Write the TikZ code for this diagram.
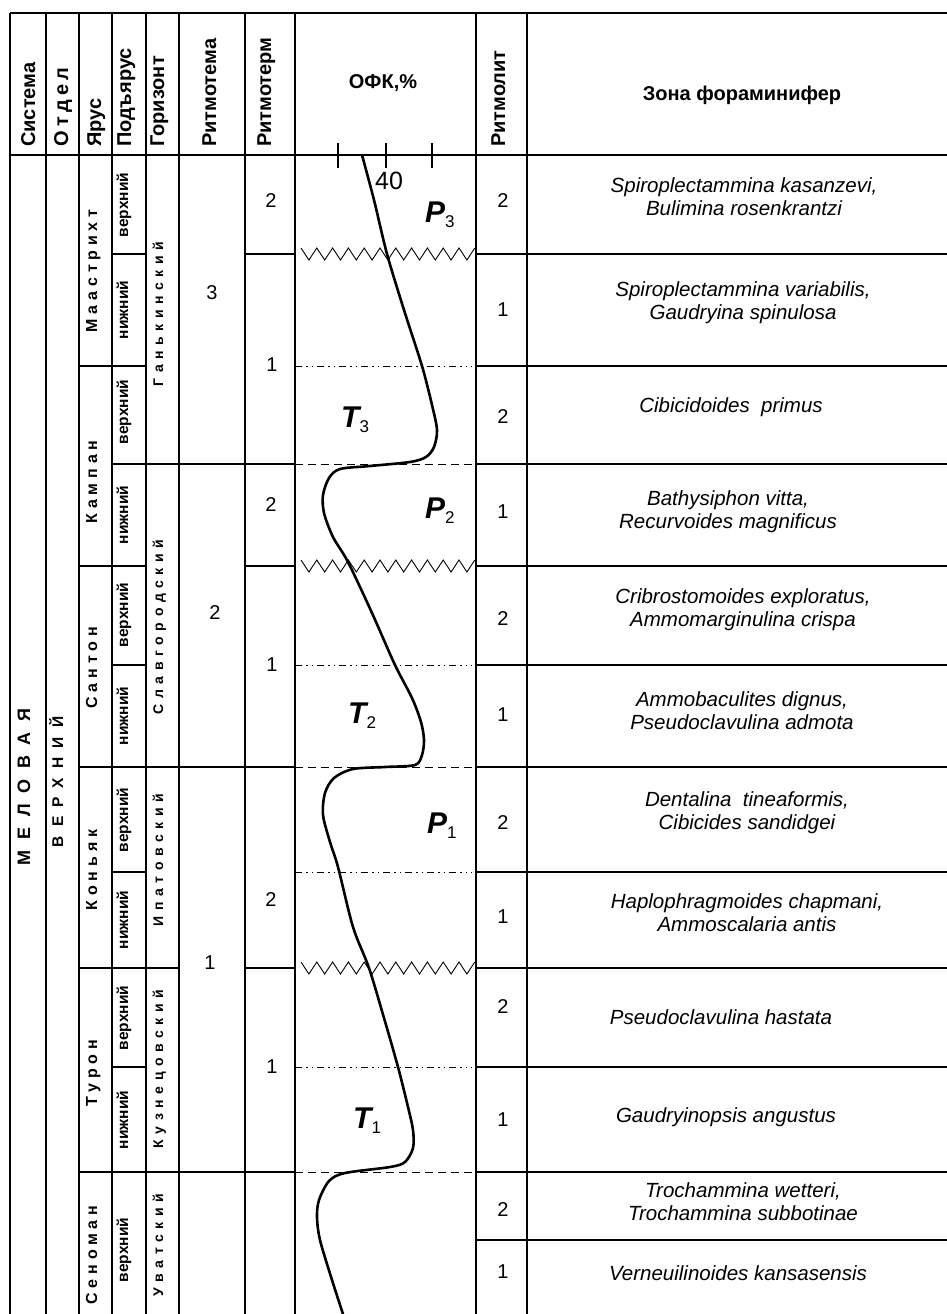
\documentclass[tikz,border=0pt]{standalone}
\usepackage{fontspec}
\setmainfont{Liberation Sans}
\newfontfamily\otdfont[LetterSpace=22]{Liberation Sans}
\newfontfamily\stagefont[LetterSpace=30]{Liberation Sans}
\newfontfamily\horfont[LetterSpace=40]{Liberation Sans}
\newfontfamily\widefont[LetterSpace=60]{Liberation Sans}
\newcommand{\fsz}[1]{\fontsize{#1}{#1}\selectfont}
\newcommand{\cyc}[2]{#1\raisebox{-5pt}{\fsz{17}\normalfont #2}}

\tikzset{
  rule/.style={line width=1.3pt},
  fine/.style={line width=0.9pt},
  hdr/.style={font=\fsz{20}\bfseries, rotate=90, anchor=base west, inner sep=0pt},
  substage/.style={font=\fsz{15.5}\bfseries, rotate=90, anchor=base, inner sep=0pt},
  stage/.style={font=\stagefont\fsz{16}\bfseries, rotate=90, anchor=base, inner sep=0pt},
  horizon/.style={font=\horfont\fsz{14}\bfseries, rotate=90, anchor=base, inner sep=0pt},
  num/.style={font=\fsz{20}, inner sep=0pt},
  zone/.style={font=\fontsize{20.5}{23}\selectfont\itshape, align=center, inner sep=0pt},
  cyclabel/.style={font=\fsz{30}\bfseries\itshape, anchor=base west, inner sep=0pt},
  curve/.style={line width=2.6pt, line join=round, line cap=round},
  lowbound/.style={fine, dash pattern=on 8pt off 5pt},
  termbound/.style={fine, dash pattern=on 7pt off 4pt on 1.5pt off 4pt on 1.5pt off 4pt},
}

\begin{document}
\begin{tikzpicture}[x=1pt, y=-1pt]
  \useasboundingbox (0,0) rectangle (947,1314);

  % Table frame
  \draw[rule] (10,13) -- (947,13);
  \draw[rule] (10,155) -- (947,155);
  \foreach \x in {10,46,79,112,146,179,245,295,476,527}
    \draw[rule] (\x,13) -- (\x,1314);

  % Ярус, подъярус, горизонт, ритмотема borders
  \foreach \y in {366,566}
    \draw[rule] (79,\y) -- (146,\y);
  \foreach \y in {254,665,872,1067}
    \draw[rule] (112,\y) -- (146,\y);
  \foreach \y in {767,1172}
    \draw[rule] (79,\y) -- (295,\y);
  \draw[rule] (112,464) -- (295,464);
  \draw[rule] (79,968) -- (179,968);

  % Ритмотерм borders
  \foreach \y in {254,566,968}
    \draw[rule] (245,\y) -- (295,\y);

  % Ритмолит and zone rows
  \foreach \y in {254,366,464,566,665,767,872,968,1067,1172,1240}
    \draw[rule] (476,\y) -- (947,\y);

  % OFK scale ticks
  \foreach \x in {338,386,432}
    \draw[rule] (\x,143) -- (\x,168);

  % Boundaries inside OFK column
  \foreach \y in {464,767,1172}
    \draw[lowbound] (295,\y) -- (476,\y);
  \foreach \y in {366,665,872,1067}
    \draw[termbound] (295,\y) -- (472,\y);
  \foreach \y in {254,566,968}
    \draw[fine] (301,\y-6) foreach \i in {0,...,10} {-- (308.9+15.8*\i,\y+6) -- (316.8+15.8*\i,\y-6)};

  % OFK curve
  \draw[curve] plot[smooth, tension=0.5] coordinates {
    (362,155) (374,200) (387,254) (404,310) (422,366) (432,405) (437,430)
    (434,447) (426,457) (410,462) (370,466) (340,469) (329,478) (323,495)
    (324,513) (333,537) (348,562) (372,613) (395,665) (412,698) (421,722)
    (424,740) (422,755) (415,765) (385,767) (353,769) (334,778) (325,793)
    (323,815) (330,842) (338,867) (353,927) (369,968) (384,1018) (398,1067)
    (408,1107) (413,1130) (413,1148) (405,1162) (390,1167) (345,1173)
    (329,1181) (319,1200) (317,1217) (320,1240) (332,1280) (343,1314)};
  \node[font=\fsz{25}, inner sep=0pt] (scale40) at (389,181) {40};

  % Cycle labels
  \node[cyclabel] (p3) at (425,222) {\cyc{P}{3}};
  \node[cyclabel] (t3) at (341,427) {\cyc{T}{3}};
  \node[cyclabel] (p2) at (425,518) {\cyc{P}{2}};
  \node[cyclabel] (t2) at (348,723) {\cyc{T}{2}};
  \node[cyclabel] (p1) at (427,833) {\cyc{P}{1}};
  \node[cyclabel] (t1) at (353,1128) {\cyc{T}{1}};

  % Header
  \node[hdr] (hsys) at (35,147) {Система};
  \node[hdr, font=\otdfont\fsz{20}\bfseries] (hotd) at (68,147) {Отдел};
  \node[hdr] (hyar) at (101,147) {Ярус};
  \node[hdr] (hpod) at (131,147) {Подъярус};
  \node[hdr] (hgor) at (164,147) {Горизонт};
  \node[hdr] (hrtema) at (216,147) {Ритмотема};
  \node[hdr] (hrterm) at (271,147) {Ритмотерм};
  \node[hdr] (hrlit) at (505,147) {Ритмолит};
  \node[font=\fsz{20}\bfseries] (hofk) at (383,83) {ОФК,\%};
  \node[font=\fsz{20}\bfseries] (hzone) at (742,95) {Зона фораминифер};

  % Система, отдел
  \node[stage, font=\widefont\fsz{18}\bfseries] (sys) at (30,787) {МЕЛОВАЯ};
  \node[stage, font=\widefont\fsz{15.5}\bfseries] (otd) at (63,782) {ВЕРХНИЙ};

  % Ярусы
  \node[stage] (maas) at (97,271) {Маастрихт};
  \node[stage] (kamp) at (97,482) {Кампан};
  \node[stage] (sant) at (97,668) {Сантон};
  \node[stage] (kon) at (97,870) {Коньяк};
  \node[stage] (tur) at (97,1073) {Турон};
  \node[stage] (sen) at (97,1255) {Сеноман};

  % Подъярусы
  \node[substage] (maas2) at (128,205) {верхний};
  \node[substage] (maas1) at (128,310) {нижний};
  \node[substage] (kamp2) at (128,412) {верхний};
  \node[substage] (kamp1) at (128,515) {нижний};
  \node[substage] (sant2) at (128,615) {верхний};
  \node[substage] (sant1) at (128,716) {нижний};
  \node[substage] (kon2) at (128,820) {верхний};
  \node[substage] (kon1) at (128,920) {нижний};
  \node[substage] (tur2) at (128,1018) {верхний};
  \node[substage] (tur1) at (128,1120) {нижний};
  \node[substage] (sen2) at (128,1250) {верхний};

  % Горизонты
  \node[horizon] (gank) at (163,314) {Ганькинский};
  \node[horizon] (slav) at (163,627) {Славгородский};
  \node[horizon] (ipat) at (163,860) {Ипатовский};
  \node[horizon] (kuzn) at (163,1069) {Кузнецовский};
  \node[horizon] (uvat) at (163,1245) {Уватский};

  % Ритмотемы
  \node[num] (rtema3) at (212,293) {3};
  \node[num] (rtema2) at (215,613) {2};
  \node[num] (rtema1) at (210,963) {1};

  % Ритмотермы
  \node[num] (rterm6) at (271,201) {2};
  \node[num] (rterm5) at (272,365) {1};
  \node[num] (rterm4) at (271,505) {2};
  \node[num] (rterm3) at (272,665) {1};
  \node[num] (rterm2) at (271,900) {2};
  \node[num] (rterm1) at (272,1067) {1};

  % Ритмолиты
  \foreach \y/\n [count=\k] in {201/2,310/1,417/2,512/1,619/2,715/1,823/2,917/1,1007/2,1120/1,1210/2,1272/1}
    \node[num] (rlit\k) at (503,\y) {\n};

  % Зоны фораминифер
  \node[zone] (zone1) at (744,197) {Spiroplectammina kasanzevi,\\Bulimina rosenkrantzi};
  \node[zone] (zone2) at (743,303) {Spiroplectammina variabilis,\\Gaudryina spinulosa};
  \node[zone] (zone3) at (731,407) {Cibicidoides\ \ primus};
  \node[zone] (zone4) at (728,512) {Bathysiphon vitta,\\Recurvoides magnificus};
  \node[zone] (zone5) at (743,610) {Cribrostomoides exploratus,\\Ammomarginulina crispa};
  \node[zone] (zone6) at (742,711) {Ammobaculites dignus,\\Pseudoclavulina admota};
  \node[zone] (zone7) at (747,813) {Dentalina\ \ tineaformis,\\Cibicides sandidgei};
  \node[zone] (zone8) at (747,913) {Haplophragmoides chapmani,\\Ammoscalaria antis};
  \node[zone] (zone9) at (721,1017) {Pseudoclavulina hastata};
  \node[zone] (zone10) at (726,1117) {Gaudryinopsis angustus};
  \node[zone] (zone11) at (743,1202) {Trochammina wetteri,\\Trochammina subbotinae};
  \node[zone] (zone12) at (738,1273) {Verneuilinoides kansasensis};
\end{tikzpicture}
\end{document}
